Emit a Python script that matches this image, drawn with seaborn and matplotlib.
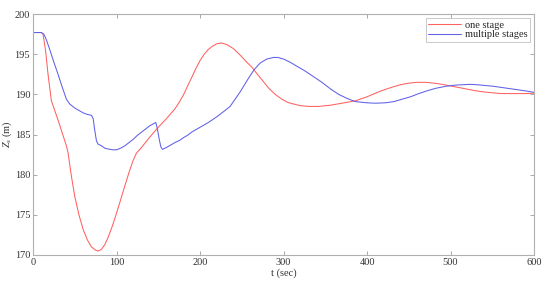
import numpy as np
import pandas as pd
import matplotlib
matplotlib.use("Agg")
import matplotlib.pyplot as plt
import seaborn as sns

t_one = [0, 10, 12, 15, 18, 22, 25, 30, 35, 40, 42, 46, 50, 55, 60, 65, 70, 75, 78, 82,
         86, 90, 95, 100, 105, 110, 115, 120, 124, 130, 140, 150, 160, 170, 175, 180,
         185, 190, 195, 200, 205, 210, 215, 220, 226, 232, 240, 248, 256, 262, 268, 275,
         282, 290, 298, 305, 312, 320, 330, 342, 356, 370, 386, 400, 416, 430, 440, 450,
         460, 470, 480, 490, 500, 510, 520, 530, 540, 550, 560, 570, 580, 590, 600]
z_one = [197.7, 197.7, 197.5, 195.5, 192.5, 189.2, 188.3, 186.8, 185.2, 183.6, 182.7,
         179.8, 177.3, 175.0, 173.2, 171.9, 171.0, 170.6, 170.5, 170.7, 171.3, 172.2,
         173.6, 175.2, 176.9, 178.6, 180.3, 181.8, 182.7, 183.4, 184.7, 185.9, 187.0,
         188.2, 189.0, 189.9, 191.0, 192.1, 193.2, 194.2, 195.0, 195.6, 196.0, 196.3,
         196.4, 196.2, 195.7, 194.9, 194.0, 193.4, 192.6, 191.7, 190.8, 190.0, 189.4,
         189.0, 188.8, 188.6, 188.5, 188.5, 188.65, 188.9, 189.2, 189.7, 190.4, 190.9,
         191.2, 191.4, 191.5, 191.5, 191.4, 191.25, 191.05, 190.85, 190.65, 190.45,
         190.3, 190.2, 190.1, 190.1, 190.1, 190.1, 190.15]

t_multi = [0, 10, 13, 16, 20, 25, 30, 35, 40, 44, 50, 55, 60, 65, 70, 72, 74, 76, 78, 82,
           86, 90, 95, 100, 105, 110, 115, 120, 125, 130, 135, 140, 147, 149, 151, 153,
           155, 160, 165, 170, 176, 180, 185, 190, 195, 200, 210, 220, 230, 236, 242, 248,
           258, 265, 272, 280, 288, 293, 300, 308, 316, 326, 336, 346, 356, 366, 376, 386,
           400, 410, 422, 432, 442, 452, 462, 472, 482, 494, 505, 515, 523, 532, 542, 552,
           562, 572, 582, 592, 600]
z_multi = [197.7, 197.7, 197.5, 196.8, 195.6, 194.0, 192.5, 190.9, 189.4, 188.8, 188.3,
           188.0, 187.7, 187.5, 187.4, 187.0, 185.5, 184.2, 183.8, 183.6, 183.3, 183.2,
           183.1, 183.1, 183.3, 183.6, 184.0, 184.4, 184.9, 185.3, 185.7, 186.1, 186.5,
           185.7, 184.5, 183.5, 183.15, 183.4, 183.7, 184.0, 184.3, 184.6, 184.9, 185.3,
           185.6, 185.9, 186.5, 187.2, 188.0, 188.5, 189.4, 190.3, 192.0, 193.1, 193.9,
           194.4, 194.6, 194.6, 194.4, 194.0, 193.5, 192.9, 192.2, 191.5, 190.7, 190.0,
           189.5, 189.1, 188.95, 188.9, 188.95, 189.1, 189.4, 189.7, 190.1, 190.45,
           190.75, 191.0, 191.15, 191.2, 191.25, 191.2, 191.1, 191.0, 190.85, 190.7,
           190.55, 190.4, 190.25]

labels = ["one stage", "multiple stages"]
colors = ["#ff6060", "#6060e8"]

df = pd.concat([
    pd.DataFrame({"t": t_one, "z": z_one, "series": labels[0]}),
    pd.DataFrame({"t": t_multi, "z": z_multi, "series": labels[1]}),
], ignore_index=True)

sns.set_style("white")
plt.rcParams["font.family"] = ["Liberation Serif", "DejaVu Serif"]
plt.rcParams["mathtext.fontset"] = "custom"
plt.rcParams["mathtext.rm"] = "Liberation Serif"
plt.rcParams["mathtext.it"] = "Liberation Serif:italic"

fig = plt.figure(figsize=(5.5, 2.87), dpi=100)
ax = fig.add_axes([0.06, 0.1115, 0.911, 0.8395])

sns.lineplot(data=df, x="t", y="z", hue="series", palette=colors, ax=ax,
             linewidth=0.75, sort=False, estimator=None)

ax.set_xlim(0, 600)
ax.set_ylim(170, 200)
ax.set_xticks(range(0, 601, 100))
ax.set_yticks(range(170, 201, 5))
grey = "#b0b0b0"
for s in ax.spines.values():
    s.set_color(grey)
    s.set_linewidth(0.8)
    s.set_visible(True)
ax.tick_params(direction="in", length=3, width=0.6, color="#999999",
               labelsize=7.5, labelcolor="#333333", top=True, right=True,
               bottom=True, left=True, pad=2)
ax.set_xlabel("t (sec)", fontsize=7.5, color="#333333", labelpad=1)
ax.set_ylabel(r"$Z_s$ (m)", fontsize=7.5, color="#333333")
ax.yaxis.set_label_coords(-0.037, 0.5)

leg = ax.legend(loc="upper right", fontsize=7.5, frameon=True, fancybox=False,
                borderpad=0.2, handlelength=3.2, handletextpad=0.4,
                labelspacing=0.05, borderaxespad=0.4)
leg.get_frame().set_edgecolor(grey)
leg.get_frame().set_linewidth(0.6)
leg.set_title(None)

fig.savefig("out.png", dpi=100)
